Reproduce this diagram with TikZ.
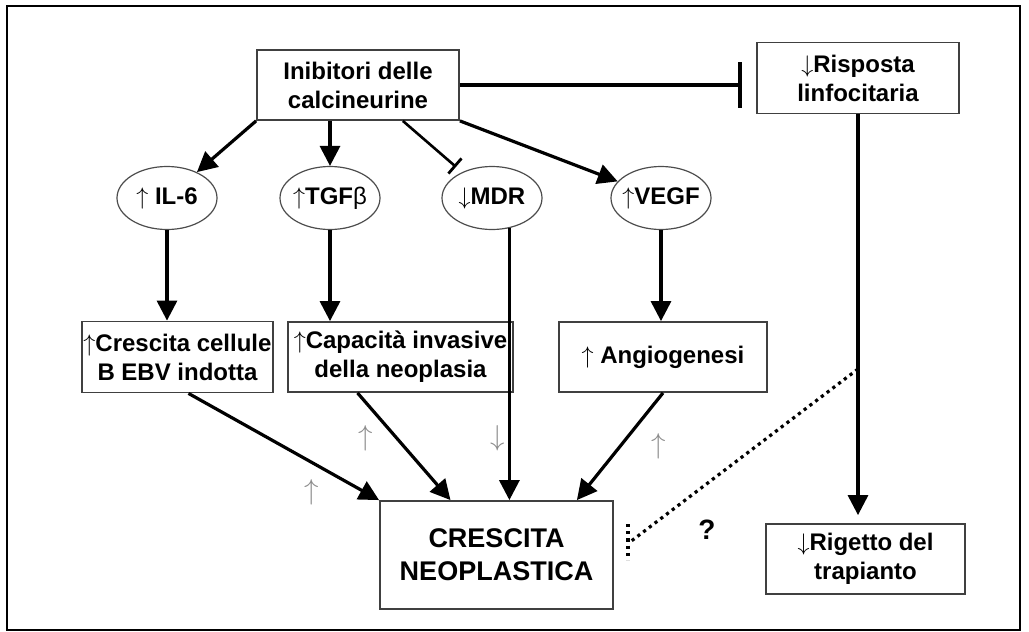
\documentclass[tikz,border=0pt]{standalone}
\usepackage{fontspec}
\setmainfont{Liberation Sans}
\usetikzlibrary{arrows.meta,shapes.geometric,calc}

\begin{document}
\begin{tikzpicture}[x=0.5pt, y=-0.5pt,
    every node/.style={font=\fontsize{12}{14.5}\selectfont\bfseries, align=center, inner sep=0pt},
    box/.style={draw=black!75, line width=0.9pt, rectangle},
    oval/.style={draw=black!70, line width=0.6pt, ellipse, minimum width=50pt, minimum height=31.5pt, inner xsep=-5pt},
    link/.style={line width=1.6pt, -{Triangle[length=10pt, width=10pt]}},
    block/.style={line width=1.3pt, -{Bar[width=10pt, line width=1.4pt]}},
    bigblock/.style={line width=1.6pt, -{Bar[width=23pt, line width=2.2pt]}},
    hint/.style={font=\fontsize{14}{14}\selectfont, text=black!45}]
    \useasboundingbox (0,0) rectangle (1029,632);
    \draw[line width=0.8pt] (7,6) rectangle (1020,630);
    \node[box, minimum width=101pt, minimum height=35pt] (inib) at (358,85) {Inibitori delle\\calcineurine};
    \node[box, minimum width=101pt, minimum height=35.5pt] (risp) at (858,78) {$\downarrow$Risposta\\linfocitaria};
    \node[oval] (il6) at (167,198) {$\uparrow$ IL-6};
    \node[oval] (tgf) at (330,198) {$\uparrow$TGF\textmd{β}};
    \node[oval] (mdr) at (492,198) {$\downarrow$MDR};
    \node[oval] (vegf) at (661,198) {$\uparrow$VEGF};
    \node[box, minimum width=95.5pt, minimum height=35.5pt] (cell) at (177.5,357) {$\uparrow$Crescita cellule\\B EBV indotta};
    \node[box, minimum width=112.5pt, minimum height=35pt] (inv) at (400.5,357) {$\uparrow$Capacità invasive\\della neoplasia};
    \node[box, minimum width=104pt, minimum height=35pt] (angio) at (663,357) {$\uparrow$ Angiogenesi};
    \node[box, minimum width=116.5pt, minimum height=54pt, font=\fontsize{13.5}{16.5}\selectfont\bfseries] (neo) at (496.5,555) {CRESCITA\\NEOPLASTICA};
    \node[box, minimum width=99.5pt, minimum height=35pt] (rig) at (865.5,559) {$\downarrow$Rigetto del\\trapianto};
    \node[font=\fontsize{14}{14}\selectfont\bfseries] (q) at (707,530) {?};
    \node[hint] (h1) at (312,492) {$\uparrow$};
    \node[hint] (h2) at (366,438) {$\uparrow$};
    \node[hint] (h3) at (498,438) {$\downarrow$};
    \node[hint] (h4) at (659,446) {$\uparrow$};
        \draw[link] (inib.south west) -- (il6);
        \draw[link] (inib.south -| tgf) -- (tgf.north);
        \draw[block, shorten >=4pt] ($(inib.south west)!0.72!(inib.south east)$) -- (mdr);
        \draw[link] (inib.south east) -- (vegf);
        \draw[bigblock, shorten >=7pt] (inib.east) -- (inib.east -| risp.west);
        \draw[link] (il6.south) -- (il6.south |- cell.north);
        \draw[link] (tgf.south) -- (tgf.south |- inv.north);
        \draw[link] (vegf.south) -- (vegf.south |- angio.north);
        \draw[link] (mdr.-60) -- (mdr.-60 |- neo.north);
        \draw[link] ($(cell.south)+(11,0)$) -- (neo.north west);
        \draw[link] ($(inv.south)+(-43,0)$) -- ($(neo.north)+(-46,0)$);
        \draw[link] (angio.south) -- ($(neo.north east)+(-37,0)$);
        \draw[link, shorten >=4pt] (risp.south) -- (risp.south |- rig.north);
    \coordinate (tap) at (858,369);
    \coordinate (tail) at (630,542);
        \draw[line width=1.6pt, dotted] (tap) -- (tail);
        \draw[line width=1.6pt, dotted] ($(tail)+(-2,-18)$) -- ($(tail)+(-2,18)$);
\end{tikzpicture}
\end{document}
